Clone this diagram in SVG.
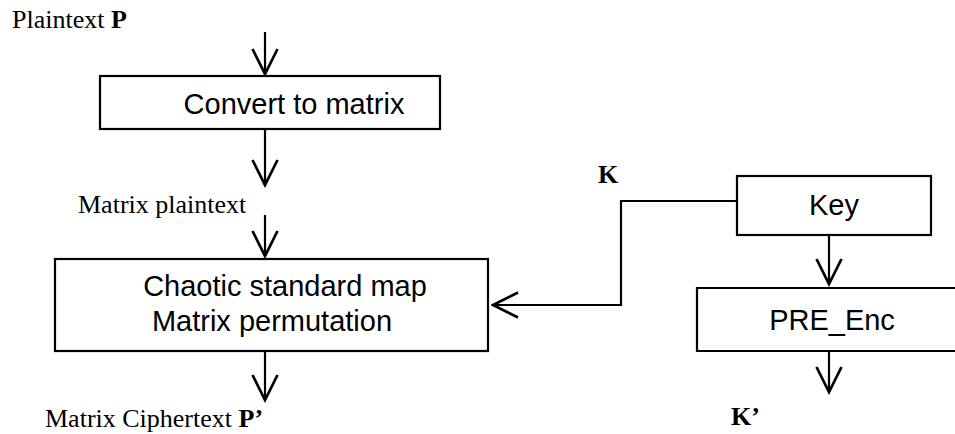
<svg xmlns="http://www.w3.org/2000/svg" width="955" height="434" viewBox="0 0 955 434">
  <style>
    .box { fill: #ffffff; stroke: #000000; stroke-width: 2.2; }
    .lbl { font-family: "Liberation Serif", "Times New Roman", serif; font-size: 26px; fill: #000000; }
    .b { font-weight: bold; }
    .txt { font-family: "Liberation Sans", Arial, sans-serif; font-size: 29px; fill: #000000; text-anchor: middle; }
    .conn { fill: none; stroke: #000000; stroke-width: 2.2; marker-end: url(#arr); }
  </style>
  <defs>
    <marker id="arr" markerUnits="userSpaceOnUse" markerWidth="30" markerHeight="30" viewBox="-22 -12 24 24" refX="0" refY="0" orient="auto">
      <path d="M-20,-10 L0,0 L-20,10" fill="none" stroke="#000000" stroke-width="2.2"/>
    </marker>
  </defs>
  <rect width="955" height="434" fill="#ffffff"/>

  <g id="connectors">
    <line class="conn" x1="265" y1="32" x2="265" y2="74"/>
    <line class="conn" x1="265" y1="129" x2="265" y2="185"/>
    <line class="conn" x1="265" y1="215" x2="265" y2="256"/>
    <line class="conn" x1="265" y1="351" x2="265" y2="400"/>
    <polyline class="conn" points="753,201 621,201 621,305 493,305"/>
    <line class="conn" x1="829" y1="236" x2="829" y2="284"/>
    <line class="conn" x1="829" y1="351" x2="829" y2="392"/>
  </g>

  <g id="label-plaintext">
    <text class="lbl" x="12" y="28">Plaintext <tspan class="b">P</tspan></text>
  </g>

  <g id="node-convert">
    <rect class="box" x="100" y="76" width="340" height="53"/>
    <text class="txt" x="294" y="114">Convert to matrix</text>
  </g>

  <g id="label-matrix-plaintext">
    <text class="lbl" x="78" y="213">Matrix plaintext</text>
  </g>

  <g id="node-chaotic">
    <rect class="box" x="55" y="259" width="433" height="92"/>
    <text class="txt" x="285" y="296">Chaotic standard map</text>
    <text class="txt" x="272" y="331">Matrix permutation</text>
  </g>

  <g id="label-ciphertext">
    <text class="lbl" x="45" y="427">Matrix Ciphertext <tspan class="b">P’</tspan></text>
  </g>

  <g id="label-k">
    <text class="lbl b" x="598" y="183">K</text>
  </g>

  <g id="node-key">
    <rect class="box" x="737" y="176" width="194" height="59"/>
    <text class="txt" x="834" y="215">Key</text>
  </g>

  <g id="node-pre-enc">
    <path class="box" d="M960,288 H697 V351 H960"/>
    <text class="txt" x="832" y="330">PRE_Enc</text>
  </g>

  <g id="label-k-prime">
    <text class="lbl b" x="731" y="425">K’</text>
  </g>
</svg>
